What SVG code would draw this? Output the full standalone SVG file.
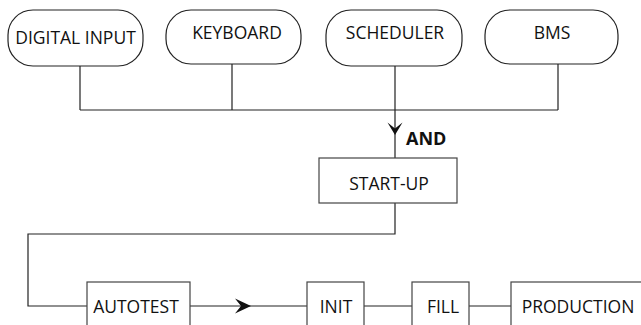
<svg xmlns="http://www.w3.org/2000/svg" width="641" height="325" viewBox="0 0 641 325">
<style>
.n{fill:#fff;stroke:#222;stroke-width:1.2}
.b{fill:#fff;stroke:#444;stroke-width:1.2}
.t{font-family:"Open Sans","Noto Sans",sans-serif;font-size:17.5px;fill:#111;text-anchor:middle}
.c{fill:none;stroke:#222;stroke-width:1.2}
.ah{fill:#111;stroke:none}
</style>
<rect width="641" height="325" fill="#fff"/>
<g id="connectors">
<path class="c" d="M80 66V110M232 64V110M558 64V110M80 110H558M395 66V158"/>
<path class="c" d="M395 203V234H28V306H87"/>
<path class="c" d="M190 306H307M364 306H412M469 306H511"/>
<path class="ah" d="M395 135L387.5 122.5L395 128.5L402.5 122.5Z"/>
<path class="ah" d="M251 306L235 298.5L241 306L235 313.5Z"/>
<text x="406" y="145" style="font-family:'Open Sans','Noto Sans',sans-serif;font-size:18px;font-weight:bold;fill:#111">AND</text>
</g>
<g id="digital-input"><rect class="n" x="8" y="10" width="135" height="56" rx="25"/><text class="t" x="75.5" y="44">DIGITAL INPUT</text></g>
<g id="keyboard"><rect class="n" x="166" y="10" width="135" height="54" rx="25"/><text class="t" x="237" y="39">KEYBOARD</text></g>
<g id="scheduler"><rect class="n" x="326" y="10" width="136" height="56" rx="25"/><text class="t" x="395" y="39">SCHEDULER</text></g>
<g id="bms"><rect class="n" x="485" y="10" width="133" height="54" rx="25"/><text class="t" x="552" y="39">BMS</text></g>
<g id="start-up"><rect class="b" x="319" y="158" width="138" height="45"/><text class="t" x="389" y="190">START-UP</text></g>
<g id="autotest"><rect class="b" x="87" y="282" width="103" height="50"/><text class="t" x="136" y="313">AUTOTEST</text></g>
<g id="init"><rect class="b" x="307" y="282" width="57" height="50"/><text class="t" x="336" y="313">INIT</text></g>
<g id="fill"><rect class="b" x="412" y="282" width="57" height="50"/><text class="t" x="443" y="313">FILL</text></g>
<g id="production"><rect class="b" x="511" y="282" width="140" height="50"/><text class="t" x="578" y="313">PRODUCTION</text></g>
</svg>
